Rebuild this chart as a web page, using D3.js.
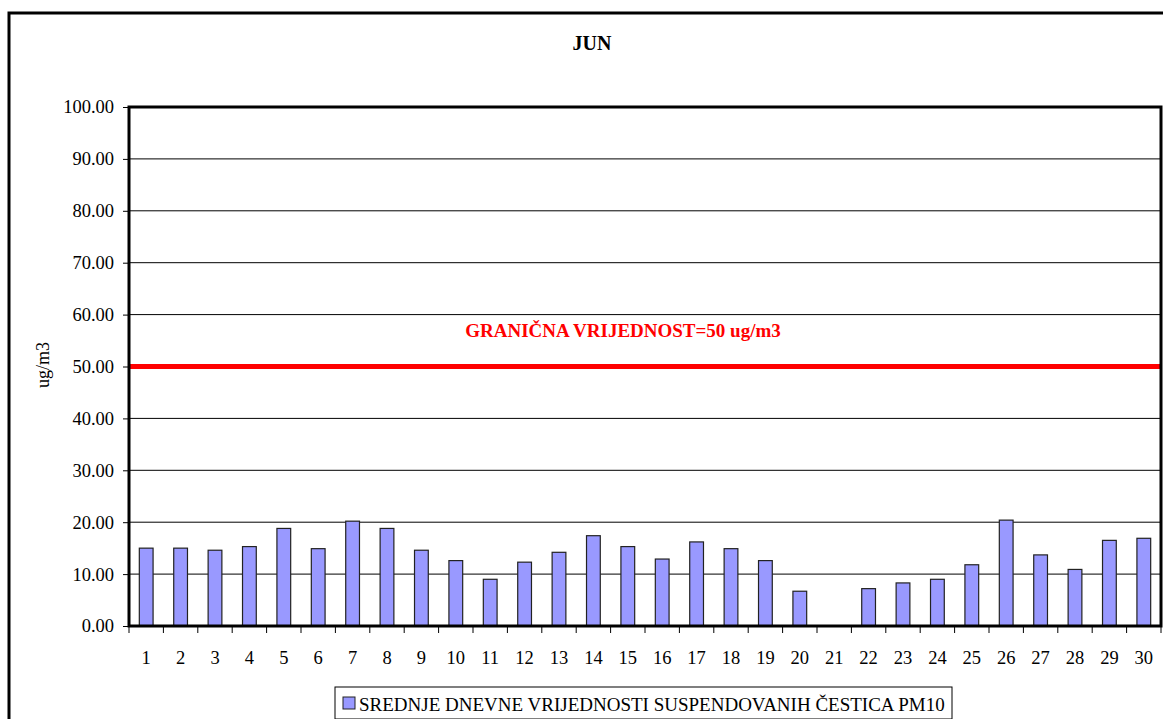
<!DOCTYPE html>
<html>
<head>
<meta charset="utf-8">
<script src="https://cdn.jsdelivr.net/npm/d3@7"></script>
<style>
  body { margin: 0; background: #fff; }
  svg { display: block; }
  svg text { font-family: "Liberation Serif", "Times New Roman", Times, "DejaVu Serif", serif; }
</style>
</head>
<body>
<svg id="chart"></svg>
<script>
// Daily values (ug/m3) for June, day 21 has no measurement
const days = d3.range(1, 31).map(String);
const pm10 = [15.0, 15.0, 14.6, 15.3, 18.8, 14.9, 20.2, 18.8, 14.6, 12.6,
              9.0, 12.3, 14.2, 17.4, 15.3, 12.9, 16.2, 14.9, 12.6, 6.7,
              null, 7.2, 8.3, 9.0, 11.8, 20.4, 13.7, 10.9, 16.5, 16.9];
const yTicks = [0, 10, 20, 30, 40, 50, 60, 70, 80, 90, 100];
const limitValue = 50;
const limitLabel = "GRANIČNA VRIJEDNOST=50 ug/m3";
const seriesName = "SREDNJE DNEVNE VRIJEDNOSTI SUSPENDOVANIH ČESTICA PM10";
const title = "JUN";
const yTitle = "ug/m3";

const FONT = "'Liberation Serif', 'Times New Roman', Times, serif";

const data = days.map((d, i) => ({ day: d, value: pm10[i] }));

const width = 1163, height = 719;
const plot = { left: 129, top: 107, right: 1161, bottom: 626 };

const svg = d3.select("#chart")
    .attr("width", width)
    .attr("height", height);

// outer chart frame (cut off on the right and bottom)
svg.append("rect")
   .attr("x", 9).attr("y", 13)
   .attr("width", width + 20).attr("height", height + 20)
   .attr("fill", "none")
   .attr("stroke", "#000")
   .attr("stroke-width", 3);

const x = d3.scaleBand()
    .domain(days)
    .range([plot.left, plot.right])
    .padding(0);

const y = d3.scaleLinear()
    .domain([0, 100])
    .range([plot.bottom, plot.top]);

// gridlines
svg.append("g")
   .selectAll("line")
   .data(yTicks.filter(d => d > 0 && d < 100))
   .join("line")
   .attr("x1", plot.left).attr("x2", plot.right)
   .attr("y1", d => y(d)).attr("y2", d => y(d))
   .attr("stroke", "#000")
   .attr("stroke-width", 1);

// bars
const barW = x.bandwidth() * 0.4;
svg.append("g")
   .selectAll("rect")
   .data(data.filter(d => d.value != null))
   .join("rect")
   .attr("x", d => x(d.day) + (x.bandwidth() - barW) / 2)
   .attr("y", d => y(d.value))
   .attr("width", barW)
   .attr("height", d => y(0) - y(d.value))
   .attr("fill", "#9999ff")
   .attr("stroke", "#222")
   .attr("stroke-width", 1.2);

// limit line
svg.append("line")
   .attr("x1", plot.left).attr("x2", plot.right)
   .attr("y1", y(limitValue)).attr("y2", y(limitValue))
   .attr("stroke", "#ff0000")
   .attr("stroke-width", 5);

svg.append("text")
   .attr("x", 623)
   .attr("y", 337)
   .attr("text-anchor", "middle")
   .attr("fill", "#ff0000")
   .attr("font-family", FONT)
   .style("font-size", "19px")
   .style("font-weight", "bold")
   .text(limitLabel);

// plot area frame
svg.append("rect")
   .attr("x", plot.left).attr("y", plot.top)
   .attr("width", plot.right - plot.left)
   .attr("height", plot.bottom - plot.top)
   .attr("fill", "none")
   .attr("stroke", "#000")
   .attr("stroke-width", 3);

// Y axis
const yAxis = svg.append("g")
   .attr("transform", `translate(${plot.left}, 0)`)
   .attr("font-family", FONT)
   .call(d3.axisLeft(y).tickValues(yTicks).tickFormat(d3.format(".2f")).tickSize(6).tickPadding(9));
yAxis.select(".domain").remove();
yAxis.selectAll("line").attr("stroke", "#000");
yAxis.selectAll("text")
   .style("font-size", "18.5px")
   .attr("fill", "#000");

// X axis: labels centred in each band, ticks on band boundaries
const xAxis = svg.append("g")
   .attr("transform", `translate(0, ${plot.bottom})`)
   .attr("font-family", FONT)
   .call(d3.axisBottom(x).tickSize(0).tickPadding(25));
xAxis.select(".domain").remove();
xAxis.selectAll("text")
   .style("font-size", "18.5px")
   .attr("fill", "#000");

svg.append("g")
   .selectAll("line")
   .data(days.concat(["end"]))
   .join("line")
   .attr("x1", d => d === "end" ? plot.right : x(d))
   .attr("x2", d => d === "end" ? plot.right : x(d))
   .attr("y1", plot.bottom)
   .attr("y2", plot.bottom + 7)
   .attr("stroke", "#000");

// titles
svg.append("text")
   .attr("x", 592)
   .attr("y", 50)
   .attr("text-anchor", "middle")
   .attr("font-family", FONT)
   .style("font-size", "20px")
   .style("font-weight", "bold")
   .text(title);

svg.append("text")
   .attr("text-anchor", "middle")
   .attr("transform", `translate(49, 365) rotate(-90)`)
   .attr("font-family", FONT)
   .style("font-size", "18px")
   .text(yTitle);

// legend
const legend = svg.append("g").attr("transform", "translate(335, 687)");
legend.append("rect")
   .attr("width", 617).attr("height", 32)
   .attr("fill", "#fff")
   .attr("stroke", "#000")
   .attr("stroke-width", 1);
legend.append("rect")
   .attr("x", 8).attr("y", 10)
   .attr("width", 12).attr("height", 12)
   .attr("fill", "#9999ff")
   .attr("stroke", "#222");
legend.append("text")
   .attr("x", 24)
   .attr("y", 24)
   .attr("font-family", FONT)
   .style("font-size", "19px")
   .text(seriesName);
</script>
</body>
</html>
